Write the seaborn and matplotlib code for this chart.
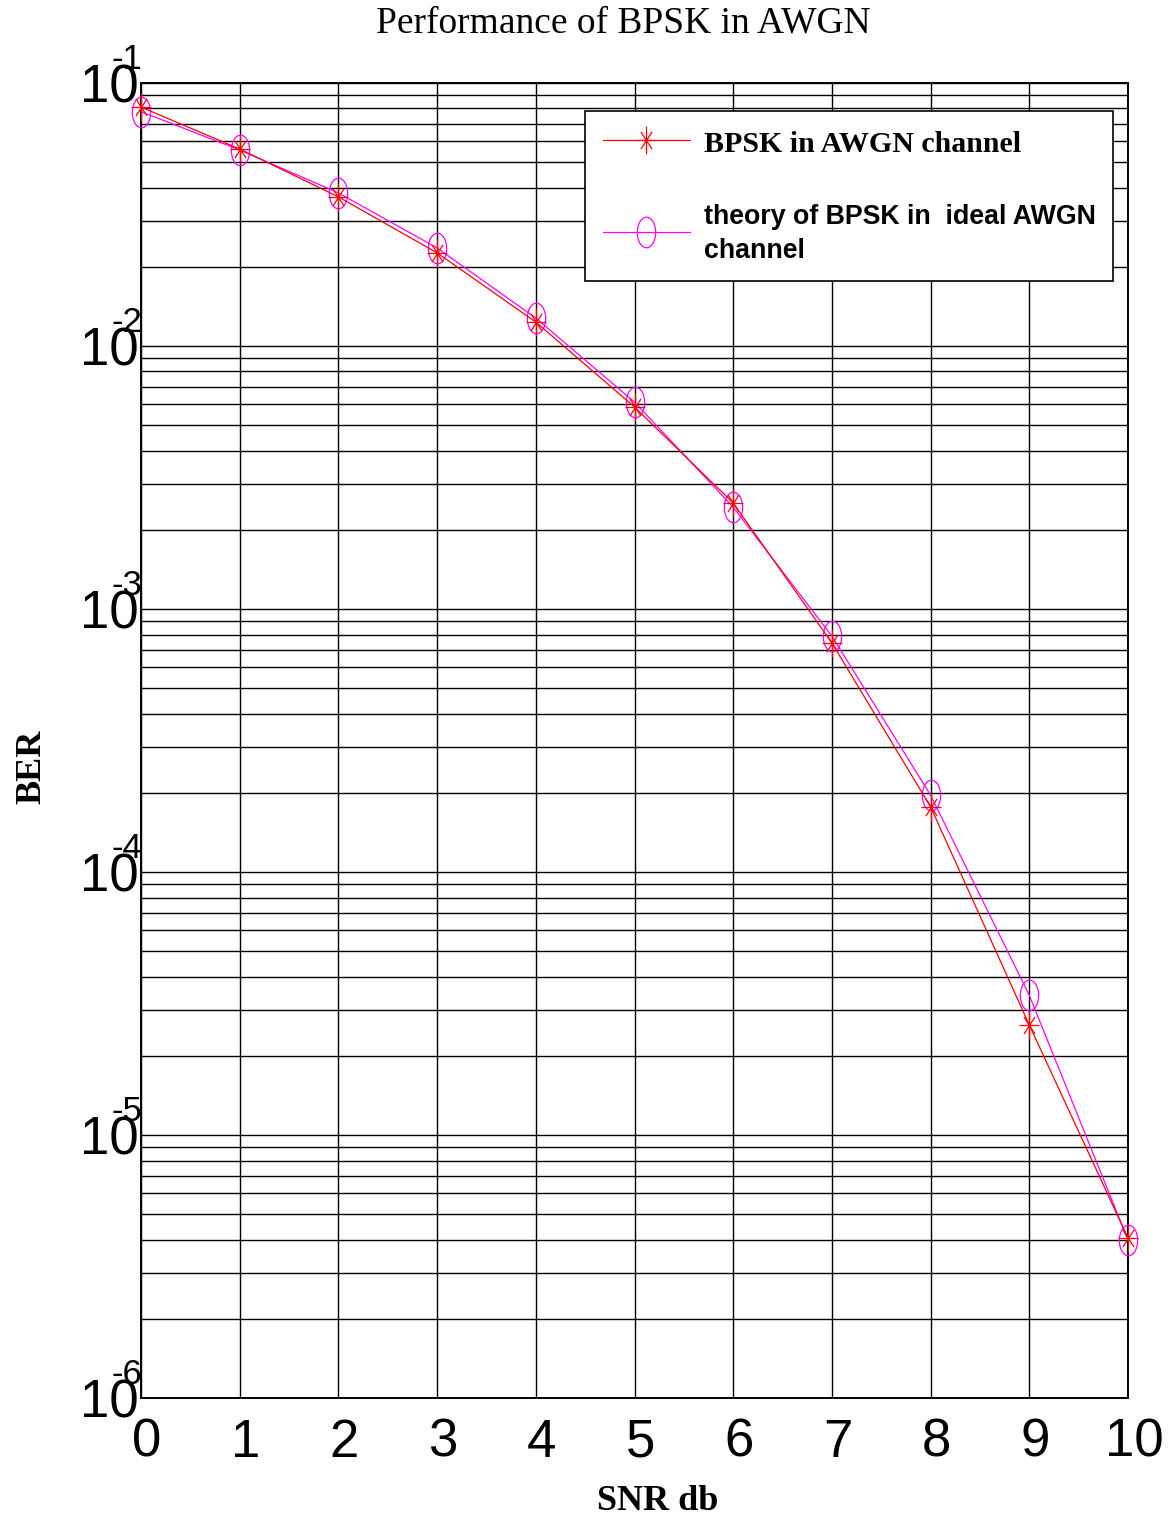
import matplotlib

matplotlib.use("Agg")

import matplotlib.pyplot as plt
import matplotlib.transforms as mtransforms
import numpy as np
import pandas as pd
import seaborn as sns
from matplotlib.lines import Line2D
from matplotlib.path import Path
from matplotlib.ticker import LogLocator, NullFormatter

# values
snr_db = [0, 1, 2, 3, 4, 5, 6, 7, 8, 9, 10]
ber_sim = [0.081, 0.0561, 0.0369, 0.0226, 0.01233, 0.00586, 0.00253,
           0.000743, 0.000177, 2.62e-5, 4.06e-6]
ber_theory = [0.0778, 0.0556, 0.0382, 0.0236, 0.01277, 0.00612, 0.00244,
              0.000789, 0.000196, 3.40e-5, 3.99e-6]
decades = [-6, -5, -4, -3, -2, -1]
xticks = [0, 1, 2, 3, 4, 5, 6, 7, 8, 9, 10]

RED = "#ff0000"
MAGENTA = "#ff00ff"
SANS = "Liberation Sans"
SERIF = "Liberation Serif"

# stretched markers (MATLAB figure was resized, markers look tall)
ellipse = Path.unit_circle().transformed(mtransforms.Affine2D().scale(0.6, 1.0))
asterisk = Path(
    [(-0.72, 0), (0.72, 0), (0, -1), (0, 1),
     (-0.4, -0.62), (0.4, 0.62), (-0.4, 0.62), (0.4, -0.62)],
    [Path.MOVETO, Path.LINETO] * 4,
)

df = pd.DataFrame({"snr": snr_db, "sim": ber_sim, "theory": ber_theory})

sns.set_theme(style="white")
plt.rcParams.update({
    "font.family": SANS,
    "text.color": "black",
    "axes.labelcolor": "black",
    "xtick.color": "black",
    "ytick.color": "black",
    "axes.edgecolor": "black",
    "axes.linewidth": 1.4,
    "xtick.direction": "in",
    "ytick.direction": "in",
})

fig = plt.figure(figsize=(11.75, 15.17), dpi=100)
ax = fig.add_axes([0.12, 0.0784, 0.84, 0.8669])

sns.lineplot(data=df, x="snr", y="sim", ax=ax, color=RED, lw=0.9,
             marker=asterisk, markersize=20, markerfacecolor="none",
             markeredgecolor=RED, markeredgewidth=0.9, zorder=4, clip_on=False)
sns.lineplot(data=df, x="snr", y="theory", ax=ax, color=MAGENTA, lw=0.9,
             marker=ellipse, markersize=22, markerfacecolor="none",
             markeredgecolor=MAGENTA, markeredgewidth=0.9, zorder=3, clip_on=False)

ax.set_yscale("log")
ax.set_xlim(0, 10)
ax.set_ylim(1e-6, 1e-1)
ax.set_xticks(xticks)
ax.set_xticklabels([str(t) for t in xticks], fontsize=38, family=SANS)
ax.set_yticks([10.0 ** d for d in decades])
ax.set_yticklabels(["10"] * len(decades), fontsize=38, family=SANS)
ax.yaxis.set_minor_locator(LogLocator(base=10, subs=range(2, 10)))
ax.yaxis.set_minor_formatter(NullFormatter())
ax.tick_params(axis="both", which="both", length=6, width=1, color="black")
ax.tick_params(axis="y", pad=2)
ax.tick_params(axis="x", pad=14)
shift = mtransforms.ScaledTranslation(6 / 100, 0, fig.dpi_scale_trans)
for lab in ax.get_xticklabels():
    lab.set_transform(lab.get_transform() + shift)

# MATLAB-style exponents sitting on top of the "10"
for d in decades:
    ax.annotate(str(d), xy=(0, 10.0 ** d), xycoords=("axes fraction", "data"),
                xytext=(1, 17), textcoords="offset points", ha="right",
                va="center", fontsize=25, family=SANS)

ax.grid(True, which="both", color="black", lw=1.0, ls="-")
ax.set_axisbelow(True)

ax.set_title("Performance of BPSK in AWGN", family=SERIF, fontsize=27, pad=36, x=0.489)
ax.set_xlabel("SNR db", family=SERIF, fontsize=26, fontweight="bold")
ax.xaxis.set_label_coords(0.523, -0.066)
ax.set_ylabel("BER", family=SERIF, fontsize=26, fontweight="bold")
ax.yaxis.set_label_coords(-0.094, 0.48)

handles = [
    Line2D([0], [0], color=RED, lw=0.9, marker=asterisk, markersize=20,
           markerfacecolor="none", markeredgecolor=RED, markeredgewidth=0.9),
    Line2D([0], [0], color=MAGENTA, lw=0.9, marker=ellipse, markersize=22,
           markerfacecolor="none", markeredgecolor=MAGENTA, markeredgewidth=0.9),
]
labels = ["BPSK in AWGN channel", "theory of BPSK in  ideal AWGN\nchannel"]
leg = ax.legend(handles, labels, loc="upper right", bbox_to_anchor=(0.985, 0.9787),
                fontsize=19, frameon=True, fancybox=False, framealpha=1,
                edgecolor="black", handlelength=3.3, handletextpad=0.55,
                handleheight=1.38, labelspacing=1.75, borderpad=0.65,
                borderaxespad=0)
leg.get_frame().set_linewidth(1.2)
texts = leg.get_texts()
texts[0].set_fontfamily(SERIF)
texts[0].set_fontweight("bold")
texts[0].set_fontsize(21.5)
texts[1].set_fontfamily(SANS)
texts[1].set_fontweight("bold")
texts[1].set_fontsize(19.3)
texts[1].set_linespacing(1.37)

fig.savefig("out.png", dpi=100, facecolor="white")
plt.close(fig)
